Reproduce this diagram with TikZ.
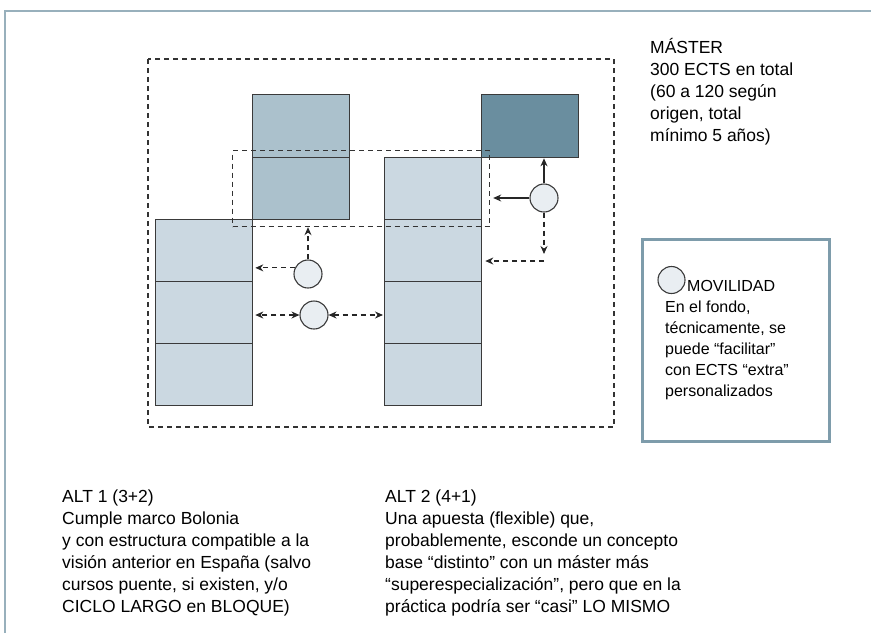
\documentclass[tikz,border=0pt]{standalone}
\usepackage{fontspec}
\setmainfont{Liberation Sans}
\usetikzlibrary{arrows.meta}
\definecolor{claro}{HTML}{CBD8E1}
\definecolor{medio}{HTML}{ABC1CC}
\definecolor{oscuro}{HTML}{6A8E9F}
\definecolor{movil}{HTML}{E9EEF2}
\definecolor{marco}{HTML}{7E9CAB}
\definecolor{linea}{HTML}{3A3A3A}
\tikzset{
  curso/.style={draw=linea,line width=1.3pt,minimum width=97pt,minimum height=62pt,
    anchor=north west,inner sep=0pt},
  bola/.style={circle,draw=linea,line width=1.1pt,fill=movil,minimum size=28pt,inner sep=0pt},
  flecha/.style={->,line width=1.1pt,draw=black!85},
  rayas/.style={dash pattern=on 5pt off 4pt},
  texto/.style={font=\fontsize{17.5}{22}\selectfont,align=left,inner sep=0pt,anchor=base west},
  >={Stealth[length=8pt,width=7pt]}
}
\begin{document}
\begin{tikzpicture}[x=1pt,y=-1pt]
       \useasboundingbox (0,0) rectangle (871,633);
       \draw [marco!80,line width=2pt] (5,633) -- (5,11) -- (871,11);
       \node at (155,219) [curso,fill=claro] (l1) {};
       \node at (155,281) [curso,fill=claro] (l2) {};
       \node at (155,343) [curso,fill=claro] (l3) {};
       \node at (252,94) [curso,fill=medio,minimum height=63pt] (m1) {};
       \node at (252,157) [curso,fill=medio] (m2) {};
       \node at (384,157) [curso,fill=claro] (r1) {};
       \node at (384,219) [curso,fill=claro] (r2) {};
       \node at (384,281) [curso,fill=claro] (r3) {};
       \node at (384,343) [curso,fill=claro] (r4) {};
       \node at (481,94) [curso,fill=oscuro,minimum height=63pt] (d) {};
       \draw [rayas,line width=1.2pt,black!80]
          (148,59) rectangle (614,427);
       \node at (232,150) [draw=black!80,rayas,line width=1.2pt,minimum width=257pt,
          minimum height=76pt,anchor=north west,inner sep=0pt] (cuarto) {};
       \node at (544,198) [bola] (cA) {};
       \node at (308,274) [bola] (cB) {};
       \node at (314,315) [bola] (cC) {};
       \coordinate (codo) at (544,261);
       \draw [flecha] (cA) -- (cA |- d.south);
       \draw [flecha,shorten >=3pt] (cA) -- (cA -| cuarto.east);
       \draw [flecha,rayas,shorten >=7pt] (cA) -- (codo);
       \draw [flecha,rayas,shorten >=3pt] (codo) -- (codo -| r2.east);
       \draw [flecha,rayas] (cB) -- (cB |- cuarto.south);
       \draw [flecha,rayas,shorten >=2pt] (cB.155) -- (cB.155 -| l1.east);
       \draw [flecha,rayas,<->,shorten >=2pt] (cC) -- (cC -| l2.east);
       \draw [flecha,rayas,<->,shorten >=1pt] (cC) -- (cC -| r3.west);
       \node at (650,141) [texto] (master) {MÁSTER\\300 ECTS en total\\(60 a 120 según\\origen, total\\mínimo 5 años)};
       \node at (641,238) [draw=marco,line width=3pt,minimum width=187pt,minimum height=202pt,
          anchor=north west,inner sep=0pt] (leyenda) {};
       \node at (671.5,280) [bola,minimum size=27pt] (leyc) {};
       \node at (687,291) [texto,font=\fontsize{16}{21}\selectfont] (movilidad) {MOVILIDAD};
       \node at (665,396) [texto,font=\fontsize{16}{21}\selectfont] (nota) {En el fondo,\\técnicamente, se\\puede “facilitar”\\con ECTS “extra”\\personalizados};
       \node at (62,612) [texto] (alt1) {ALT 1 (3+2)\\Cumple marco Bolonia\\y con estructura compatible a la\\visión anterior en España (salvo\\cursos puente, si existen, y/o\\CICLO LARGO en BLOQUE)};
       \node at (385,612) [texto] (alt2) {ALT 2 (4+1)\\Una apuesta (flexible) que,\\probablemente, esconde un concepto\\base “distinto” con un máster más\\“superespecialización”, pero que en la\\práctica podría ser “casi” LO MISMO};
      \end{tikzpicture}
\end{document}
